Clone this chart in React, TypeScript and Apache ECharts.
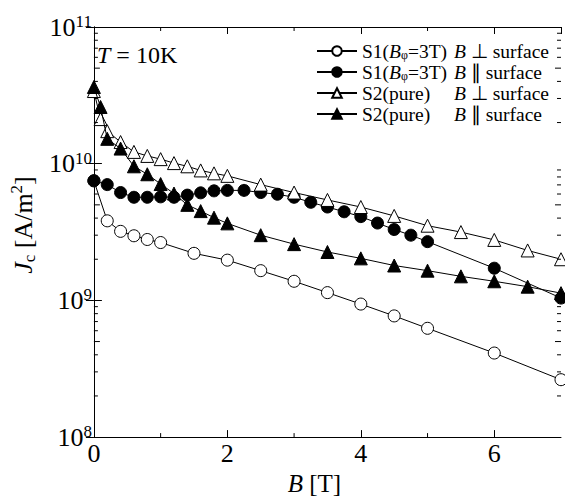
import React, { useEffect, useRef } from 'react';
import * as echarts from 'echarts';

// S1 (B_phi = 3T), B perpendicular to surface (open circles)
const S1_PERP_B = [0, 0.2, 0.4, 0.6, 0.8, 1.0, 1.5, 2.0, 2.5, 3.0, 3.5, 4.0, 4.5, 5.0, 6.0, 7.0];
const S1_PERP_J = [7.5e9, 3.82e9, 3.2e9, 2.97e9, 2.79e9, 2.65e9, 2.21e9, 1.97e9, 1.65e9, 1.38e9, 1.14e9, 9.4e8, 7.7e8, 6.25e8, 4.12e8, 2.63e8];

// S1 (B_phi = 3T), B parallel to surface (filled circles)
const S1_PAR_B = [0, 0.2, 0.4, 0.6, 0.8, 1.0, 1.2, 1.4, 1.6, 1.8, 2.0, 2.25, 2.5, 2.75, 3.0, 3.25, 3.5, 3.75, 4.0, 4.25, 4.5, 4.75, 5.0, 6.0, 7.0];
const S1_PAR_J = [7.5e9, 7.03e9, 6.15e9, 5.68e9, 5.68e9, 5.72e9, 5.68e9, 5.89e9, 6.12e9, 6.33e9, 6.38e9, 6.38e9, 6.15e9, 5.98e9, 5.68e9, 5.22e9, 4.82e9, 4.45e9, 4.1e9, 3.68e9, 3.3e9, 3.0e9, 2.69e9, 1.72e9, 1.04e9];

// S2 (pure), B perpendicular (open triangles)
const S2_PERP_B = [0, 0.1, 0.2, 0.4, 0.6, 0.8, 1.0, 1.2, 1.4, 1.6, 1.8, 2.0, 2.5, 3.0, 3.5, 4.0, 4.5, 5.0, 5.5, 6.0, 6.5, 7.0];
const S2_PERP_J = [3.4e10, 2.12e10, 1.73e10, 1.44e10, 1.22e10, 1.14e10, 1.08e10, 1.01e10, 9.57e9, 8.93e9, 8.5e9, 8.15e9, 7.03e9, 6.15e9, 5.43e9, 4.82e9, 4.15e9, 3.52e9, 3.16e9, 2.77e9, 2.32e9, 2.0e9];

// S2 (pure), B parallel (filled triangles)
const S2_PAR_B = [0, 0.1, 0.2, 0.4, 0.6, 0.8, 1.0, 1.2, 1.4, 1.6, 1.8, 2.0, 2.5, 3.0, 3.5, 4.0, 4.5, 5.0, 5.5, 6.0, 6.5, 7.0];
const S2_PAR_J = [3.64e10, 2.6e10, 1.52e10, 1.29e10, 9.57e9, 8.37e9, 7.1e9, 6.05e9, 5.0e9, 4.5e9, 4.03e9, 3.66e9, 3.0e9, 2.58e9, 2.26e9, 2.03e9, 1.8e9, 1.65e9, 1.5e9, 1.38e9, 1.26e9, 1.13e9];

const X_MINOR_TICKS = [1, 3, 5];
const Y_DECADES = [1e8, 1e9, 1e10];
const Y_MINOR_MULTIPLIERS = [2, 3, 4, 5, 6, 7, 8, 9];

const SERIES_NAMES = ['S1perp', 'S1par', 'S2perp', 'S2par'];

const FONT = 'Liberation Serif, Times New Roman, serif';

export default function App() {
  const ref = useRef<HTMLDivElement>(null);

  useEffect(() => {
    document.body.style.margin = '0';
    const chart = echarts.init(ref.current!, null, { renderer: 'svg' });

    const LF = 19.5; // legend font size
    const canvas = document.createElement('canvas');
    const ctx = canvas.getContext('2d')!;
    const meas = (t: string, size: number, italic = false) => {
      ctx.font = `${italic ? 'italic ' : ''}${size}px "Liberation Serif"`;
      return ctx.measureText(t).width;
    };
    const wS1a = meas('S1(', LF);
    const wB = meas('B', LF, true);
    const wPhi = meas('\u03c6', 12);
    const wS1b = meas('=3T)', LF);
    const wS2 = meas('S2(pure)', LF);
    const W = Math.max(wS1a + wB + wPhi + wS1b, wS2) + 7;
    const padS1 = W - (wS1a + wB + wPhi);

    const legendRich: any = {
      a: { fontFamily: FONT, fontSize: LF, color: '#000', lineHeight: 19 },
      i: { fontFamily: FONT, fontSize: LF, fontStyle: 'italic', color: '#000', lineHeight: 19 },
      sub: { fontFamily: FONT, fontSize: 12, color: '#000', verticalAlign: 'bottom', lineHeight: 12 },
      s1b: { fontFamily: FONT, fontSize: LF, color: '#000', width: padS1, lineHeight: 19 },
      s2: { fontFamily: FONT, fontSize: LF, color: '#000', width: W, lineHeight: 19 },
    };
    const LEGEND_LABELS: Record<string, string> = {
      S1perp: '{a|S1(}{i|B}{sub|\u03c6}{s1b|=3T)}{i|B}{a| \u22a5 surface}',
      S1par: '{a|S1(}{i|B}{sub|\u03c6}{s1b|=3T)}{i|B}{a| \u2225 surface}',
      S2perp: '{s2|S2(pure)}{i|B}{a| \u22a5 surface}',
      S2par: '{s2|S2(pure)}{i|B}{a| \u2225 surface}',
    };

    const mk = (name: string, xs: number[], ys: number[], symbol: string, filled: boolean, z: number) => ({
      type: 'line',
      name,
      data: xs.map((x, i) => [x, ys[i]]),
      symbol,
      symbolSize: symbol === 'circle' ? 12 : 13,
      showSymbol: true,
      z,
      lineStyle: { color: '#000', width: 1 },
      itemStyle: { color: filled ? '#000' : '#fff', borderColor: '#000', borderWidth: 1 },
      emphasis: { disabled: true },
    });

    const yMinor: number[] = [];
    Y_DECADES.forEach((d) => Y_MINOR_MULTIPLIERS.forEach((m) => yMinor.push(d * m)));

    const minorData = [
      ...yMinor.map((v) => [0, v, 0]),
      ...X_MINOR_TICKS.map((v) => [v, 1e8, 1]),
    ];

    const axisLine = { show: true, lineStyle: { color: '#000', width: 1 } };
    const tickStyle = { color: '#000', width: 1 };

    const option: any = {
      animation: false,
      backgroundColor: '#fff',
      grid: { left: 91, right: 4, top: 27, bottom: 48, containLabel: false },
      xAxis: [
        {
          type: 'value', min: 0, max: 7, interval: 2, position: 'bottom',
          axisLine, axisTick: { inside: true, length: 7, lineStyle: tickStyle },
          splitLine: { show: false },
          axisLabel: { showMaxLabel: false, color: '#000', fontFamily: FONT, fontSize: 26, margin: 3 },
          name: '{i|B}{n| [T]}', nameLocation: 'middle', nameGap: 23,
          nameTextStyle: {
            padding: [0, 26, 0, 0],
            rich: {
              i: { fontFamily: FONT, fontSize: 25, fontStyle: 'italic', color: '#000' },
              n: { fontFamily: FONT, fontSize: 25, color: '#000' },
            },
          },
        },
        {
          type: 'value', min: 0, max: 7, interval: 2, position: 'top',
          axisLine, axisTick: { inside: true, length: 7, lineStyle: tickStyle },
          splitLine: { show: false }, axisLabel: { show: false },
        },
      ],
      yAxis: [
        {
          type: 'log', logBase: 10, min: 1e8, max: 1e11, position: 'left',
          axisLine, axisTick: { inside: true, length: 8, lineStyle: tickStyle },
          splitLine: { show: false },
          axisLabel: {
            margin: 2,
            formatter: (v: number) => `{b|10}{s|${Math.round(Math.log10(v))}}`,
            rich: {
              b: { fontFamily: FONT, fontSize: 26, color: '#000', lineHeight: 28 },
              s: { fontFamily: FONT, fontSize: 17, color: '#000', verticalAlign: 'top', lineHeight: 15 },
            },
          },
          name: '{i|J}{sub|c}{n| [A/m}{sup|2}{n|]}', nameLocation: 'middle', nameGap: 46, nameRotate: 90,
          nameTextStyle: {
            padding: [0, 0, 0, 14],
            rich: {
              i: { fontFamily: FONT, fontSize: 26, fontStyle: 'italic', color: '#000', lineHeight: 30 },
              n: { fontFamily: FONT, fontSize: 26, color: '#000', lineHeight: 30 },
              sub: { fontFamily: FONT, fontSize: 17, color: '#000', verticalAlign: 'bottom', lineHeight: 16 },
              sup: { fontFamily: FONT, fontSize: 17, color: '#000', verticalAlign: 'top', lineHeight: 16 },
            },
          },
        },
        {
          type: 'log', logBase: 10, min: 1e8, max: 1e11, position: 'right',
          axisLine, axisTick: { inside: true, length: 8, lineStyle: tickStyle },
          splitLine: { show: false }, axisLabel: { show: false },
        },
      ],
      legend: {
        data: SERIES_NAMES,
        orient: 'vertical',
        left: 311,
        top: 36,
        itemWidth: 40,
        itemHeight: 12,
        itemGap: 1,
        selectedMode: false,
        formatter: (name: string) => LEGEND_LABELS[name],
        textStyle: { fontFamily: FONT, fontSize: LF, color: '#000', rich: legendRich },
      },
      graphic: [
        {
          type: 'text', left: 97, top: 43,
          style: {
            text: '{i|T}{n| = 10K}',
            rich: {
              i: { fontFamily: FONT, fontSize: 24, fontStyle: 'italic', fill: '#000' },
              n: { fontFamily: FONT, fontSize: 24, fill: '#000' },
            },
          },
        },
      ],
      series: [
        mk('S1perp', S1_PERP_B, S1_PERP_J, 'circle', false, 2),
        mk('S1par', S1_PAR_B, S1_PAR_J, 'circle', true, 3),
        mk('S2perp', S2_PERP_B, S2_PERP_J, 'triangle', false, 4),
        mk('S2par', S2_PAR_B, S2_PAR_J, 'triangle', true, 5),
        {
          type: 'custom',
          name: 'minorTicks',
          silent: true,
          clip: false,
          z: 6,
          encode: { x: 0, y: 1 },
          data: minorData,
          renderItem: (params: any, api: any) => {
            const cs = params.coordSys;
            const kind = api.value(2);
            const st = { stroke: '#000', lineWidth: 1 };
            if (kind === 0) {
              const v = api.value(1);
              const y = api.coord([0, v])[1];
              const m = Math.round(v / Math.pow(10, Math.floor(Math.log10(v) + 1e-9)));
              const len = m === 5 ? 6 : 4;
              return {
                type: 'group',
                children: [
                  { type: 'line', shape: { x1: cs.x, y1: y, x2: cs.x + len, y2: y }, style: st },
                  { type: 'line', shape: { x1: cs.x + cs.width - len, y1: y, x2: cs.x + cs.width, y2: y }, style: st },
                ],
              };
            }
            const x = api.coord([api.value(0), 1e8])[0];
            return {
              type: 'group',
              children: [
                { type: 'line', shape: { x1: x, y1: cs.y + cs.height, x2: x, y2: cs.y + cs.height - 4 }, style: st },
                { type: 'line', shape: { x1: x, y1: cs.y, x2: x, y2: cs.y + 4 }, style: st },
              ],
            };
          },
        },
      ],
    };

    chart.setOption(option);
    return () => chart.dispose();
  }, []);

  return <div ref={ref} style={{ width: 565, height: 501 }} />;
}
